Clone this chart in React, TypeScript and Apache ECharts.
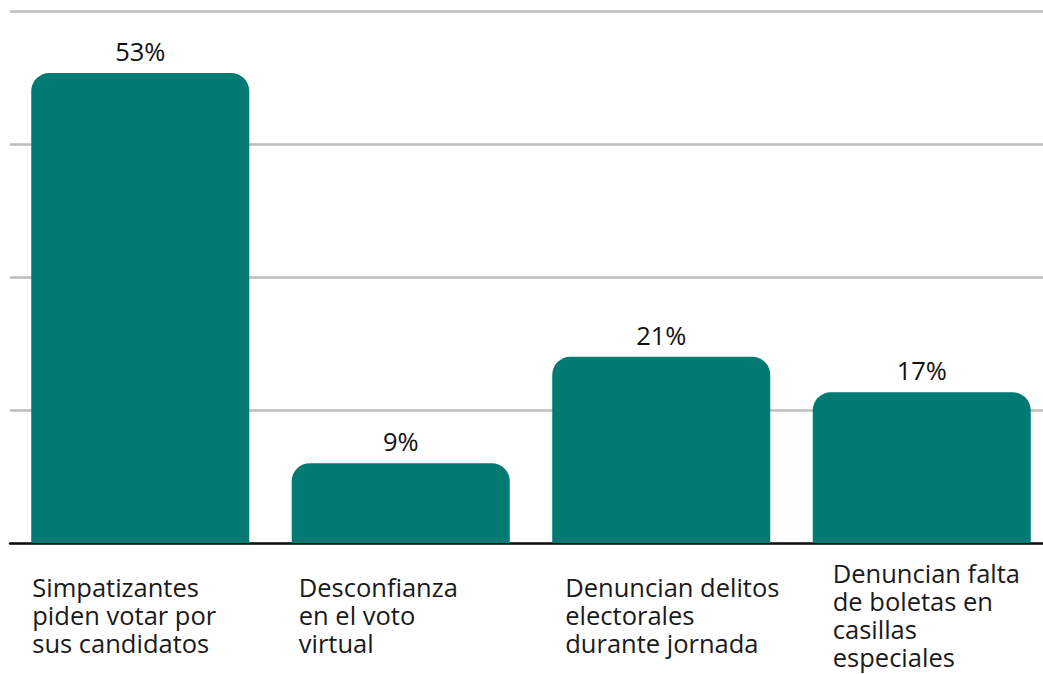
import React, { useEffect, useRef } from "react";
import * as echarts from "echarts";

const categories = [
  "Simpatizantes\npiden votar por\nsus candidatos",
  "Desconfianza\nen el voto\nvirtual",
  "Denuncian delitos\nelectorales\ndurante jornada",
  "Denuncian falta\nde boletas en\ncasillas\nespeciales",
];
const values = [53, 9, 21, 17];

const FONT = "'Open Sans', 'Liberation Sans', Arial, sans-serif";
// horizontal shift (px) of each category label's left edge relative to its bar's left edge
const LABEL_SHIFT = [1, 7, 13, 20];
const BAR_W = 218;

export default function App() {
  const ref = useRef<HTMLDivElement>(null);
  useEffect(() => {
    document.body.style.margin = "0";
    document.documentElement.style.overflow = "hidden";
    const chart = echarts.init(ref.current!, null, { renderer: "svg" });
    const rich: Record<string, any> = {};
    LABEL_SHIFT.forEach((d, i) => {
      rich["r" + i] = {
        width: BAR_W - 2 * d,
        align: "left",
        fontSize: 25.5,
        lineHeight: 28,
        color: "#1a1a1a",
        fontFamily: FONT,
      };
    });
    chart.setOption({
      animation: false,
      grid: { left: 10, top: 11, width: 1042, height: 532, containLabel: false },
      xAxis: {
        type: "category",
        data: categories,
        axisLine: { show: true, lineStyle: { color: "#111", width: 2.5 } },
        axisTick: { show: false },
        axisLabel: {
          interval: 0,
          margin: 72,
          align: "center",
          verticalAlign: "middle",
          formatter: (v: string, i: number) =>
            v
              .split("\n")
              .map((l) => `{r${i}|${l}}`)
              .join("\n"),
          rich,
        },
      },
      yAxis: {
        type: "value",
        min: 0,
        max: 60,
        interval: 15,
        axisLabel: { show: false },
        axisLine: { show: false },
        axisTick: { show: false },
        splitLine: { show: true, lineStyle: { color: "#bdbdbd", width: 2.5 } },
      },
      series: [
        {
          type: "bar",
          data: values,
          barWidth: BAR_W,
          itemStyle: { color: "#017a73", borderRadius: [18, 18, 0, 0] },
          label: {
            show: true,
            position: "top",
            distance: 9,
            formatter: "{c}%",
            fontSize: 25.5,
            color: "#111",
            fontFamily: FONT,
          },
        },
      ],
    });
    return () => chart.dispose();
  }, []);
  return (
    <div style={{ width: 1043, height: 674, overflow: "hidden", position: "relative" }}>
      <div ref={ref} style={{ width: 1060, height: 674 }} />
    </div>
  );
}
